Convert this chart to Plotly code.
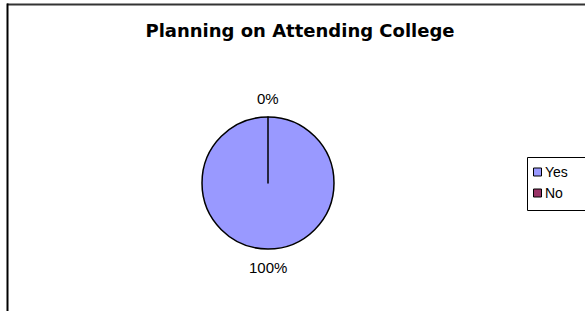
import math
import plotly.graph_objects as go

labels = ["Yes", "No"]
values = [100, 0]
colors = ["#9999FF", "#993366"]
title = "Planning on Attending College"

W, H = 585, 311
cx, cy, r = 268, 183, 66

fig = go.Figure(go.Pie(
    labels=labels, values=values, sort=False, direction="clockwise", rotation=0,
    marker=dict(colors=colors, line=dict(color="black", width=1.5)),
    textinfo="none",
    domain=dict(x=[(cx - r) / W, (cx + r) / W], y=[1 - (cy + r) / H, 1 - (cy - r) / H]),
    showlegend=False, hoverinfo="label+percent",
))

# percentage labels placed outside each slice at its mid-angle
total = sum(values)
annotations = []
cum = 0.0
label_font = dict(family="Liberation Sans, Arial", size=15, color="black")
for v in values:
    frac = v / total
    mid = (cum + frac / 2) * 2 * math.pi
    cum += frac
    d = r + 18
    px = cx + d * math.sin(mid)
    py = cy - d * math.cos(mid)
    annotations.append(dict(text=f"{frac * 100:.0f}%", x=px / W, y=1 - py / H, xref="paper", yref="paper",
                            xanchor="center", yanchor="middle", showarrow=False, font=label_font))

# legend box built from the series names and colours
shapes = [
    dict(type="line", xref="paper", yref="paper", x0=7 / W, x1=1, y0=1 - 4.5 / H, y1=1 - 4.5 / H,
         line=dict(color="#333333", width=2)),
    dict(type="line", xref="paper", yref="paper", x0=7.5 / W, x1=7.5 / W, y0=1 - 3.5 / H, y1=0,
         line=dict(color="black", width=2)),
    dict(type="rect", xref="paper", yref="paper", x0=527.5 / W, x1=590 / W, y0=1 - 210.5 / H, y1=1 - 157.5 / H,
         line=dict(color="black", width=1), fillcolor="white"),
]
leg_y0, leg_step = 172, 21
for i, (lab, col) in enumerate(zip(labels, colors)):
    yy = leg_y0 + i * leg_step
    shapes.append(dict(type="rect", xref="paper", yref="paper", x0=533.5 / W, x1=541.5 / W,
                       y0=1 - (yy + 4) / H, y1=1 - (yy - 4) / H,
                       line=dict(color="black", width=1), fillcolor=col))
    annotations.append(dict(text=lab, x=542.5 / W, y=1 - yy / H, xref="paper", yref="paper",
                            xanchor="left", yanchor="middle", showarrow=False,
                            font=dict(family="Liberation Sans, Arial", size=14, color="black")))

fig.update_layout(
    width=W, height=H, margin=dict(l=0, r=0, t=0, b=0),
    paper_bgcolor="white", plot_bgcolor="white",
    title=dict(text="<b>" + title + "</b>", x=300 / W, xanchor="center", y=1 - 31 / H, yanchor="middle",
               font=dict(family="DejaVu Sans", size=18, color="black")),
    shapes=shapes, annotations=annotations, showlegend=False,
)

fig.write_html("out.html", config={"displayModeBar": False},
               post_script="document.body.style.margin='0';document.body.style.overflow='hidden';")
